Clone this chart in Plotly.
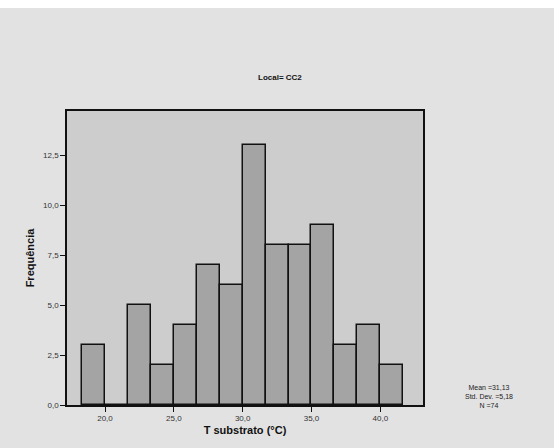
import plotly.graph_objects as go

# Histogram data
bin_start = 18.3333
bin_width = 5 / 3
counts = [3, 0, 5, 2, 4, 7, 6, 13, 8, 8, 9, 3, 4, 2]
x_tick_vals = [20, 25, 30, 35, 40]
x_tick_text = ["20,0", "25,0", "30,0", "35,0", "40,0"]
y_tick_vals = [0, 2.5, 5, 7.5, 10, 12.5]
y_tick_text = ["0,0", "2,5", "5,0", "7,5", "10,0", "12,5"]
title_text = "Local= CC2"
x_title = "T substrato (°C)"
y_title = "Frequência"
stats_lines = ["Mean =31,13", "Std. Dev. =5,18", "N =74"]

centers = [bin_start + bin_width * (i + 0.5) for i in range(len(counts))]

fig = go.Figure()
fig.add_trace(go.Bar(
    x=centers, y=counts, width=bin_width,
    marker=dict(color="#a4a4a4", line=dict(color="#111111", width=1.5)),
    showlegend=False,
))

fnt = "Liberation Sans, Arial, sans-serif"
fig.update_layout(
    width=554, height=448,
    margin=dict(l=67, r=131, t=111, b=43),
    paper_bgcolor="#e2e2e2",
    plot_bgcolor="#cdcdcd",
    bargap=0,
    font=dict(family=fnt, color="#222222"),
    xaxis=dict(
        range=[17.24, 43.1], tickvals=x_tick_vals, ticktext=x_tick_text,
        ticks="outside", ticklen=5, tickwidth=1, tickcolor="#111",
        showgrid=False, zeroline=False,
        showline=True, linecolor="#111", linewidth=1.5, mirror=True,
        tickfont=dict(size=8, color="#333"),
        title=dict(text="<b>" + x_title + "</b>", font=dict(size=11, color="#111"), standoff=4),
    ),
    yaxis=dict(
        range=[0, 14.7], tickvals=y_tick_vals, ticktext=y_tick_text,
        ticks="outside", ticklen=5, tickwidth=1, tickcolor="#111",
        showgrid=False, zeroline=False,
        showline=True, linecolor="#111", linewidth=1.5, mirror=True,
        tickfont=dict(size=8, color="#333"),
        title=dict(text="<b>" + y_title + "</b>", font=dict(size=11, color="#111"), standoff=6),
    ),
    shapes=[dict(type="rect", xref="paper", yref="paper",
                 x0=-0.2, x1=1.4, y0=1 + (111 - 8) / 294, y1=1 + 111 / 294 + 0.05,
                 fillcolor="white", line=dict(width=0), layer="below")],
    annotations=[
        dict(text="<b>" + title_text + "</b>", xref="paper", yref="paper",
             x=(280 - 67) / 356, y=1 + (111 - 77) / 294, showarrow=False,
             font=dict(size=8, color="#111"), xanchor="center", yanchor="middle"),
        dict(text="<br>".join(stats_lines), xref="paper", yref="paper",
             x=(489 - 67) / 356, y=(405 - 396) / 294, showarrow=False,
             font=dict(size=7, color="#222"), xanchor="center", yanchor="middle",
             align="center"),
    ],
)

fig.write_html("out.html")
